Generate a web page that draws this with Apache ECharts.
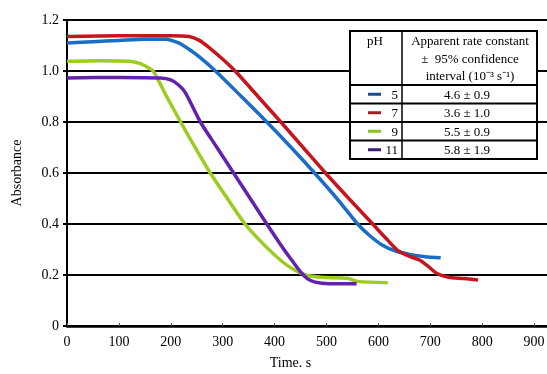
<!DOCTYPE html>
<html>
<head>
<meta charset="utf-8">
<script src="https://cdn.jsdelivr.net/npm/echarts@6/dist/echarts.min.js"></script>
<style>
  html, body { margin: 0; padding: 0; background: #fff; }
  #chart { width: 547px; height: 374px; }
</style>
</head>
<body>
<div id="chart"></div>
<script>
// absorbance vs time curves
const ph5 = [[0,1.11],[50,1.115],[100,1.12],[150,1.125],[190,1.125],[215,1.11],[235,1.085],[255,1.055],[286,1.0],[336,0.9],[385,0.8],[432,0.7],[477,0.6],[520,0.5],[560,0.4],[583,0.355],[607,0.318],[632,0.295],[660,0.281],[690,0.272],[720,0.268]]
const ph7 = [[0,1.135],[100,1.138],[200,1.138],[235,1.135],[255,1.12],[275,1.09],[298,1.05],[324,1.0],[368,0.9],[412,0.8],[455,0.7],[498,0.6],[543,0.5],[589,0.4],[614,0.345],[637,0.297],[660,0.273],[680,0.258],[696,0.234],[712,0.207],[735,0.191],[765,0.186],[792,0.18]]
const ph9 = [[0,1.038],[60,1.04],[120,1.038],[140,1.03],[155,1.015],[166,1.0],[192,0.9],[219,0.8],[247,0.7],[276,0.6],[309,0.5],[343,0.4],[378,0.322],[415,0.252],[440,0.218],[460,0.2],[490,0.191],[540,0.187],[560,0.175],[618,0.17]]
const ph11 = [[0,0.973],[100,0.975],[180,0.973],[200,0.965],[215,0.945],[228,0.915],[257,0.8],[289,0.7],[321,0.6],[353,0.5],[385,0.4],[418,0.3],[436,0.25],[450,0.212],[463,0.186],[478,0.172],[505,0.166],[558,0.166]]

const phLabels = ['5', '7', '9', '11']
const rateLabels = ['4.6 \u00b1 0.9', '3.6 \u00b1 1.0', '5.5 \u00b1 0.9', '5.8 \u00b1 1.9']
const yTickLabels = ['0', '0.2', '0.4', '0.6', '0.8', '1.0', '1.2']

const lineColors = ['#1b6cc4', '#c4161c', '#9ccc1f', '#6321ad']
const keyColors = ['#1f4a8a', '#a11c1c', '#8cc21f', '#3a1f7a']
const font = 'Liberation Serif'

const chart = echarts.init(document.getElementById('chart'))

// table in the upper right corner
const tx = 350, ty = 31, tw = 187, colX = 402, headH = 54, rowH = 18.5
const tfont = '13px ' + font
const table = []
table.push({ type: 'rect', shape: { x: tx, y: ty, width: tw, height: headH + rowH * 4 },
  style: { fill: '#fff', stroke: '#000', lineWidth: 2 }, z: 100 })
table.push({ type: 'line', shape: { x1: colX, y1: ty, x2: colX, y2: ty + headH + rowH * 4 },
  style: { stroke: '#000', lineWidth: 1.5 }, z: 101 })
for (let i = 0; i < 4; i++) {
  const y = ty + headH + rowH * i
  table.push({ type: 'line', shape: { x1: tx, y1: y, x2: tx + tw, y2: y },
    style: { stroke: '#000', lineWidth: 2 }, z: 101 })
  table.push({ type: 'line', shape: { x1: 368, y1: y + rowH / 2, x2: 381, y2: y + rowH / 2 },
    style: { stroke: keyColors[i], lineWidth: 3 }, z: 102 })
  table.push({ type: 'text', x: 398, y: y + rowH / 2 + 1, z: 102,
    style: { text: phLabels[i], font: tfont, fill: '#000', align: 'right', verticalAlign: 'middle' } })
  table.push({ type: 'text', x: 467, y: y + rowH / 2 + 1, z: 102,
    style: { text: rateLabels[i], font: tfont, fill: '#000', align: 'center', verticalAlign: 'middle' } })
}
table.push({ type: 'text', x: 375, y: 42, z: 102,
  style: { text: 'pH', font: tfont, fill: '#000', align: 'center', verticalAlign: 'middle' } })
table.push({ type: 'text', x: 470, y: 42, z: 102,
  style: { text: 'Apparent rate constant', font: tfont, fill: '#000', align: 'center', verticalAlign: 'middle' } })
table.push({ type: 'text', x: 470, y: 60, z: 102,
  style: { text: '\u00b1  95% confidence', font: tfont, fill: '#000', align: 'center', verticalAlign: 'middle' } })
table.push({ type: 'text', x: 470, y: 77, z: 102,
  style: { text: 'interval (10\u207b\u00b3 s\u207b\u00b9)', font: tfont, fill: '#000', align: 'center', verticalAlign: 'middle' } })

function mkSeries(name, data, color) {
  return {
    name: name,
    type: 'line',
    data: data,
    smooth: 0.25,
    showSymbol: false,
    lineStyle: { color: color, width: 3.5 },
    itemStyle: { color: color },
    animation: false
  }
}

chart.setOption({
  backgroundColor: '#fff',
  grid: { left: 67, right: -39, top: 20, bottom: 48, outerBoundsMode: 'none', containLabel: false },
  xAxis: {
    type: 'value',
    min: 0,
    max: 1000,
    interval: 100,
    name: 'Time. s',
    nameLocation: 'middle',
    nameGap: 30,
    nameTextStyle: { fontFamily: font, fontSize: 14, color: '#000', padding: [0, 0, 0, -72] },
    axisLine: { lineStyle: { color: '#000', width: 2.5 } },
    axisTick: { inside: true, length: 3, lineStyle: { color: '#555' } },
    axisLabel: { fontFamily: font, fontSize: 14, color: '#000', margin: 9, showMaxLabel: false },
    splitLine: { show: false }
  },
  yAxis: {
    type: 'value',
    min: 0,
    max: 1.2,
    interval: 0.2,
    name: 'Absorbance',
    nameLocation: 'middle',
    nameGap: 43,
    nameTextStyle: { fontFamily: font, fontSize: 14, color: '#000' },
    axisLine: { show: true, lineStyle: { color: '#000', width: 2 } },
    axisTick: { show: true, length: 4, lineStyle: { color: '#000', width: 2 } },
    axisLabel: {
      fontFamily: font, fontSize: 14, color: '#000', margin: 8,
      formatter: function (v) { return yTickLabels[Math.round(v / 0.2)] }
    },
    splitLine: { lineStyle: { color: '#000', width: 2 } }
  },
  series: [
    mkSeries('5', ph5, lineColors[0]),
    mkSeries('7', ph7, lineColors[1]),
    mkSeries('9', ph9, lineColors[2]),
    mkSeries('11', ph11, lineColors[3])
  ],
  graphic: table
})
</script>
</body>
</html>
